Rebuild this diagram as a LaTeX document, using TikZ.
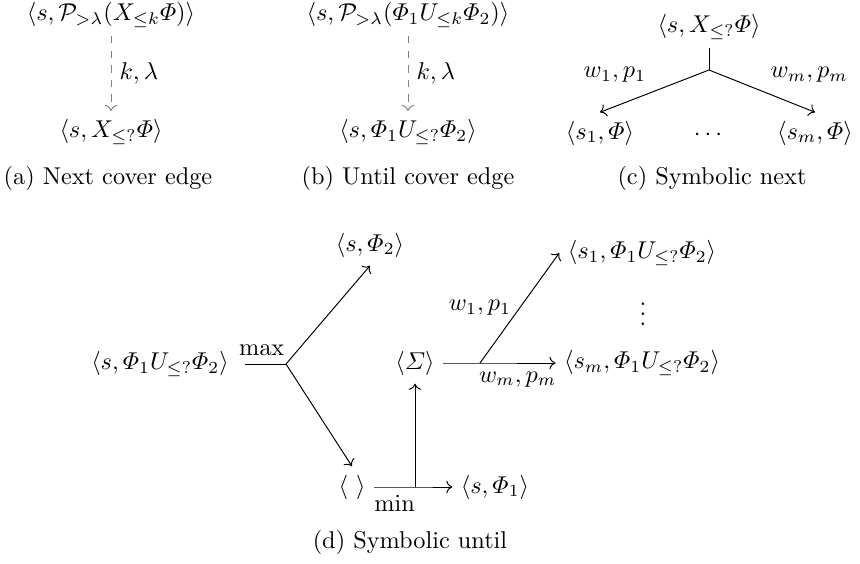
\documentclass[tikz,border=0pt]{standalone}
\usepackage{amsmath}
\usepackage{amssymb}
\usetikzlibrary{arrows.meta,positioning}

\begin{document}
\begin{tikzpicture}[
  x=0.014465cm, y=-0.014465cm,
  arr/.style={-To},
  dasharr/.style={-To, dashed, gray},
  lbl/.style={black}
]
\useasboundingbox (0,0) rectangle (860,563);

% (a) next cover edge
\node (nxtP) at (111,15) {$\langle s,\mathcal{P}_{>\lambda}(X_{\leq k}\varPhi)\rangle$};
\node (nxtX) at (111,132) {$\langle s,X_{\leq ?}\varPhi\rangle$};
\draw[dasharr] (nxtP) -- node[lbl, right] {$k,\lambda$} (nxtX);
\node (capA) at (108,178) {(a) Next cover edge};

% (b) until cover edge
\node (untP) at (408,15) {$\langle s,\mathcal{P}_{>\lambda}(\varPhi_1 U_{\leq k}\varPhi_2)\rangle$};
\node (untU) at (408,132) {$\langle s,\varPhi_1 U_{\leq ?}\varPhi_2\rangle$};
\draw[dasharr] (untP) -- node[lbl, right] {$k,\lambda$} (untU);
\node (capB) at (408,178) {(b) Until cover edge};

% (c) symbolic next
\node (symX) at (709,27) {$\langle s,X_{\leq ?}\varPhi\rangle$};
\coordinate (symJ) at (709,70);
\node (symA) at (600,133) {$\langle s_1,\varPhi\rangle$};
\node (symD) at (710,135) {$\cdots$};
\node (symB) at (815,133) {$\langle s_m,\varPhi\rangle$};
\draw (symX) -- (symJ);
\draw[arr] (symJ) -- node[above left] {$w_1,p_1$} (symA.north);
\draw[arr] (symJ) -- node[above right] {$w_m,p_m$} (symB.north);
\node (capC) at (712,178) {(c) Symbolic next};

% (d) symbolic until
\node (untL) at (160,364) {$\langle s,\varPhi_1 U_{\leq ?}\varPhi_2\rangle$};
\coordinate (maxJ) at (286,364);
\node (phiTwo) at (370,245) {$\langle s,\varPhi_2\rangle$};
\node (empty) at (352,487) {$\langle\ \rangle$};
\coordinate (minJ) at (415,487);
\node (phiOne) at (495,487) {$\langle s,\varPhi_1\rangle$};
\node (sigma) at (415,363) {$\langle\varSigma\rangle$};
\coordinate (sigJ) at (480,363);
\node (succA) at (642,253) {$\langle s_1,\varPhi_1 U_{\leq ?}\varPhi_2\rangle$};
\node[inner sep=0pt] (succD) at (643,307) {$\vdots$};
\node (succB) at (642,363) {$\langle s_m,\varPhi_1 U_{\leq ?}\varPhi_2\rangle$};
\draw[shorten <=3pt] (untL) -- node[above] {$\max$} (maxJ);
\draw[arr] (maxJ) -- (phiTwo.south);
\draw[arr] (maxJ) -- (empty.north);
\draw[arr] (empty) -- node[below] {$\min$} (minJ) -- (phiOne);
\draw[arr] (minJ) -- (sigma);
\draw[arr] (sigma) -- (sigJ) -- node[below] {$w_m,p_m$} (succB);
\draw[arr] (sigJ) -- node[left] {$w_1,p_1$} (succA.west);
\node (capD) at (410,542) {(d) Symbolic until};
\end{tikzpicture}
\end{document}
